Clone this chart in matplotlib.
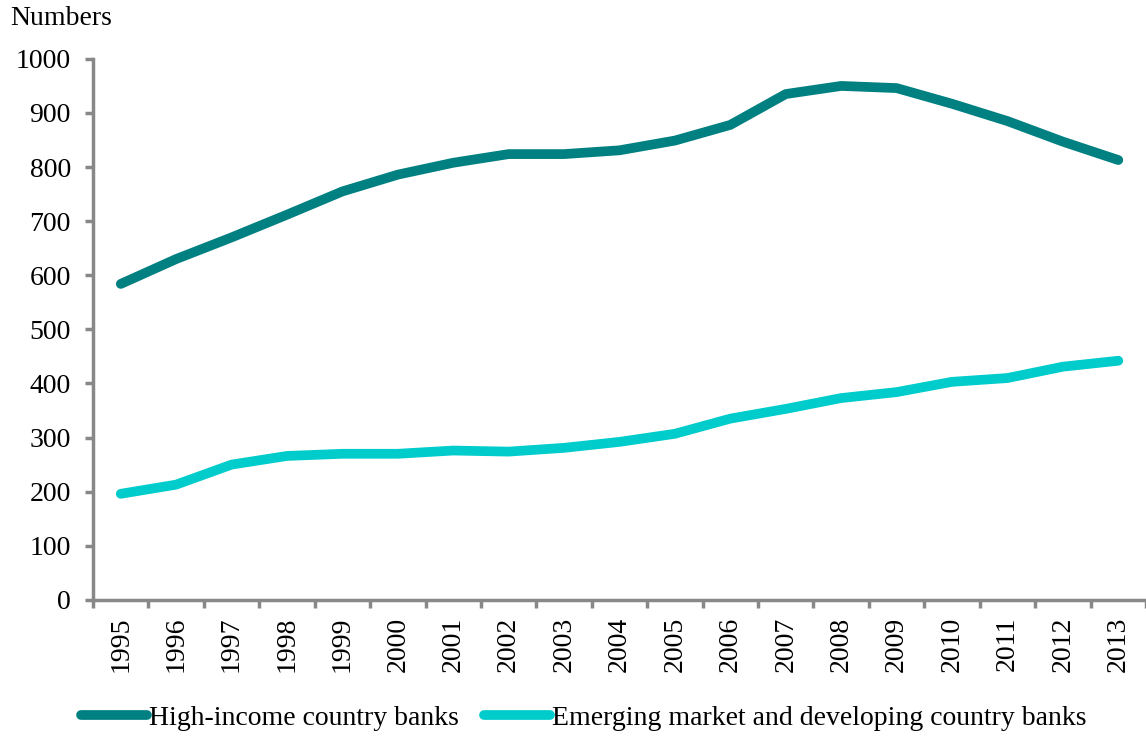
import matplotlib
matplotlib.use("Agg")
import matplotlib.pyplot as plt

# data
years = [str(y) for y in range(1995, 2014)]
high_income = [584, 630, 670, 712, 755, 786, 808, 824, 824, 831, 849, 878, 935, 950, 946, 917, 885, 847, 813]
emerging = [196, 213, 250, 266, 270, 270, 276, 274, 281, 292, 307, 335, 353, 373, 384, 403, 410, 431, 442]

plt.rcParams['font.family'] = ['Liberation Serif', 'DejaVu Serif']
fs = 20

fig = plt.figure(figsize=(11.46, 7.36), dpi=100)
ax = fig.add_axes([0.0812, 0.185, 0.9188, 0.735])

x = list(range(len(years)))
ax.plot(x, high_income, color='#008080', linewidth=7, solid_capstyle='round',
        label='High-income country banks')
ax.plot(x, emerging, color='#00CCCC', linewidth=7, solid_capstyle='round',
        label='Emerging market and developing country banks')

ax.set_ylim(0, 1000)
ax.set_yticks(range(0, 1001, 100))
ax.set_xlim(-0.5, len(years) - 0.5)
# ticks at category boundaries, labels at centers
ax.set_xticks([i - 0.5 for i in range(len(years) + 1)])
ax.set_xticklabels([])
ax.set_xticks(x, minor=True)
ax.set_xticklabels(years, minor=True, rotation=90, fontsize=fs)
ax.tick_params(axis='x', which='minor', length=0, pad=12)
ax.tick_params(axis='x', which='major', length=6, width=2.5, color='#888888', direction='out')
ax.tick_params(axis='y', length=6, width=2.5, color='#888888', labelsize=fs, pad=10)

for side in ['top', 'right']:
    ax.spines[side].set_visible(False)
for side in ['left', 'bottom']:
    ax.spines[side].set_color('#888888')
    ax.spines[side].set_linewidth(2.5)

fig.text(0.009, 0.975, 'Numbers', fontsize=fs, va='center', ha='left')

fig.legend(loc='center', bbox_to_anchor=(0.509, 0.0245), ncol=2, frameon=False,
           fontsize=fs, handlelength=2.4, handletextpad=0.05, columnspacing=0.9)

fig.savefig('out.png', dpi=100)
